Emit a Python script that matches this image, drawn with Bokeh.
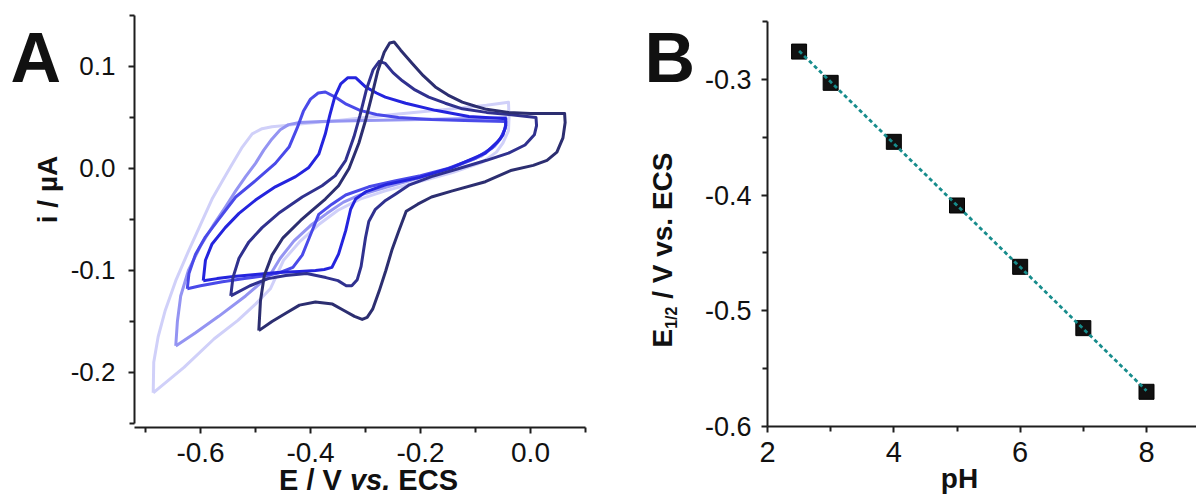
import numpy as np
from bokeh.plotting import figure
from bokeh.layouts import row
from bokeh.models import FixedTicker, PrintfTickFormatter, Label, Range1d, LinearAxis
from bokeh.embed import file_html
from bokeh.resources import INLINE

# ---------------- Panel A: cyclic voltammograms (E / V, i / uA) ----------------
cv1_x = [-0.494, -0.491, -0.484, -0.470, -0.450, -0.418, -0.397, -0.373, -0.349, -0.330, -0.312, -0.300, -0.290,
         -0.278, -0.266, -0.256, -0.248, -0.236, -0.215, -0.195, -0.173, -0.150, -0.124, -0.100, -0.080, -0.040,
         0.000, 0.062, 0.063, 0.059, 0.048, 0.030, 0.005, -0.036, -0.082, -0.142, -0.180, -0.205, -0.226, -0.240,
         -0.252, -0.263, -0.275, -0.287, -0.297, -0.306, -0.320, -0.340, -0.360, -0.391, -0.420, -0.445, -0.470, -0.494]
cv1_y = [-0.159, -0.130, -0.105, -0.085, -0.068, -0.051, -0.041, -0.030, -0.017, 0.000, 0.025, 0.047, 0.068,
         0.095, 0.114, 0.123, 0.124, 0.116, 0.103, 0.091, 0.080, 0.072, 0.065, 0.061, 0.058, 0.055,
         0.054, 0.054, 0.045, 0.030, 0.016, 0.008, 0.003, -0.002, -0.013, -0.022, -0.028, -0.035, -0.042, -0.062,
         -0.080, -0.100, -0.120, -0.138, -0.146, -0.148, -0.145, -0.139, -0.133, -0.131, -0.134, -0.142, -0.150, -0.159]

cv2_x = [-0.545, -0.541, -0.530, -0.512, -0.488, -0.458, -0.415, -0.379, -0.355, -0.336, -0.321, -0.310, -0.298,
         -0.286, -0.275, -0.264, -0.250, -0.233, -0.210, -0.185, -0.155, -0.124, -0.080, -0.039, 0.010,
         0.011, 0.007, -0.010, -0.040, -0.080, -0.130, -0.180, -0.220, -0.245, -0.265, -0.282, -0.294, -0.300,
         -0.304, -0.308, -0.315, -0.325, -0.335, -0.350, -0.372, -0.407, -0.445, -0.477, -0.510, -0.545]
cv2_y = [-0.125, -0.107, -0.088, -0.072, -0.058, -0.044, -0.028, -0.017, -0.007, 0.008, 0.031, 0.052, 0.078,
         0.097, 0.105, 0.103, 0.094, 0.086, 0.077, 0.070, 0.064, 0.0585, 0.055, 0.053, 0.050,
         0.042, 0.033, 0.023, 0.015, 0.008, 0.000, -0.008, -0.016, -0.025, -0.032, -0.040, -0.052, -0.068,
         -0.082, -0.096, -0.109, -0.115, -0.115, -0.110, -0.107, -0.103, -0.105, -0.108, -0.115, -0.125]

cv3_x = [-0.595, -0.591, -0.579, -0.555, -0.530, -0.500, -0.464, -0.427, -0.403, -0.385, -0.373, -0.365, -0.356,
         -0.345, -0.332, -0.318, -0.300, -0.280, -0.264, -0.227, -0.173, -0.112, -0.051, -0.045,
         -0.045, -0.050, -0.060, -0.082, -0.142, -0.203, -0.264, -0.300, -0.318, -0.327, -0.336, -0.349, -0.361,
         -0.375, -0.391, -0.420, -0.460, -0.500, -0.540, -0.570, -0.595]
cv3_y = [-0.110, -0.090, -0.074, -0.058, -0.044, -0.031, -0.018, -0.008, 0.001, 0.014, 0.034, 0.052, 0.070,
         0.083, 0.089, 0.089, 0.080, 0.074, 0.070, 0.064, 0.057, 0.051, 0.049, 0.049,
         0.042, 0.033, 0.026, 0.015, 0.001, -0.009, -0.016, -0.023, -0.030, -0.040, -0.061, -0.084, -0.097,
         -0.099, -0.100, -0.101, -0.102, -0.104, -0.106, -0.108, -0.110]

cv4_x = [-0.624, -0.621, -0.609, -0.591, -0.567, -0.536, -0.500, -0.464, -0.439, -0.424, -0.413, -0.400, -0.386,
         -0.373, -0.355, -0.335, -0.310, -0.280, -0.240, -0.180, -0.120, -0.045,
         -0.046, -0.055, -0.070, -0.100, -0.150, -0.200, -0.245, -0.294, -0.336, -0.361, -0.385, -0.400, -0.415,
         -0.432, -0.455, -0.480, -0.520, -0.560, -0.600, -0.624]
cv4_y = [-0.118, -0.103, -0.084, -0.067, -0.050, -0.028, -0.012, 0.005, 0.021, 0.040, 0.056, 0.068, 0.074,
         0.075, 0.070, 0.063, 0.057, 0.053, 0.050, 0.048, 0.047, 0.046,
         0.039, 0.029, 0.020, 0.010, 0.000, -0.007, -0.012, -0.018, -0.026, -0.035, -0.045, -0.065, -0.085,
         -0.097, -0.102, -0.105, -0.108, -0.111, -0.115, -0.118]

cv5_x = [-0.645, -0.642, -0.636, -0.622, -0.600, -0.576, -0.555, -0.536, -0.518, -0.500, -0.485, -0.470, -0.455,
         -0.440, -0.420, -0.380, -0.300, -0.200, -0.100, -0.045,
         -0.045, -0.052, -0.065, -0.090, -0.140, -0.200, -0.260, -0.310, -0.340, -0.370, -0.400, -0.430, -0.455,
         -0.473, -0.518, -0.567, -0.609, -0.645]
cv5_y = [-0.174, -0.150, -0.125, -0.100, -0.076, -0.055, -0.038, -0.022, -0.008, 0.005, 0.018, 0.029, 0.038,
         0.043, 0.045, 0.046, 0.047, 0.048, 0.049, 0.050,
         0.042, 0.031, 0.022, 0.012, 0.001, -0.009, -0.018, -0.026, -0.033, -0.044, -0.056, -0.071, -0.088,
         -0.104, -0.125, -0.145, -0.161, -0.174]

cv6_x = [-0.686, -0.685, -0.677, -0.664, -0.645, -0.621, -0.600, -0.579, -0.560, -0.545, -0.524, -0.506, -0.488,
         -0.470, -0.430, -0.350, -0.250, -0.150, -0.080, -0.040,
         -0.039, -0.040, -0.050, -0.062, -0.088, -0.142, -0.203, -0.264, -0.310, -0.350, -0.385, -0.420, -0.449,
         -0.473, -0.500, -0.532, -0.575, -0.630, -0.686]
cv6_y = [-0.220, -0.190, -0.165, -0.139, -0.110, -0.080, -0.055, -0.030, -0.012, 0.002, 0.021, 0.034, 0.039,
         0.041, 0.043, 0.047, 0.053, 0.058, 0.062, 0.065,
         0.050, 0.037, 0.025, 0.016, 0.006, -0.004, -0.013, -0.022, -0.030, -0.041, -0.055, -0.072, -0.090,
         -0.118, -0.133, -0.149, -0.167, -0.195, -0.220]

cv_colors = ["#2c2e70", "#30318f", "#2424de", "#4a4ae9", "#9494f2", "#d0d0f9"]

a_x_ticks = [-0.6, -0.4, -0.2, 0.0]
a_x_minor = [-0.7, -0.5, -0.3, -0.1, 0.1]
a_y_ticks = [-0.2, -0.1, 0.0, 0.1]
a_y_minor = [-0.25, -0.15, -0.05, 0.05, 0.15]

# ---------------- Panel B: E1/2 vs pH ----------------
ph = [2.5, 3, 4, 5, 6, 7, 8]
e_half = [-0.276, -0.303, -0.354, -0.409, -0.462, -0.515, -0.570]

b_x_ticks = [2, 4, 6, 8]
b_x_minor = [3, 5, 7, 9]
b_y_ticks = [-0.6, -0.5, -0.4, -0.3]
b_y_minor = [-0.55, -0.45, -0.35, -0.25]

FONT = "Liberation Sans"
AXIS_COLOR = "#1e1e1e"
PAGE_H = 497     # canvas height
MID = 0.3465     # alphabetic baseline -> middle of em box (in em)
SPACE = 0.278    # width of a space (em, Arial metrics)


class Panel:
    """Maps page pixels to data for a figure whose frame covers its whole canvas."""

    def __init__(self, canvas_left, canvas_width, ax_left, ax_right, x0, x1, ax_top, ax_bottom, y0, y1):
        self.cl = canvas_left
        self.cw = canvas_width
        self.kx = (x1 - x0) / (ax_right - ax_left)
        self.ky = (y1 - y0) / (ax_bottom - ax_top)
        self.ax_left, self.x0 = ax_left, x0
        self.ax_bottom, self.y0 = ax_bottom, y0

    def x(self, px):
        return self.x0 + (px - self.ax_left) * self.kx

    def y(self, py):
        return self.y0 + (self.ax_bottom - py) * self.ky

    def xr(self):
        return Range1d(self.x(self.cl), self.x(self.cl + self.cw))

    def yr(self):
        return Range1d(self.y(PAGE_H), self.y(0))


def make_fig(pn):
    p = figure(width=pn.cw, height=PAGE_H, x_range=pn.xr(), y_range=pn.yr(),
               x_axis_type=None, y_axis_type=None,
               output_backend="svg", toolbar_location=None,
               min_border=0, min_border_left=0, min_border_right=0, min_border_top=0, min_border_bottom=0)
    p.outline_line_color = None
    p.background_fill_color = "white"
    p.border_fill_color = "white"
    p.grid.visible = False
    return p


def style_axis(ax, size, standoff):
    ax.axis_line_color = AXIS_COLOR
    ax.axis_line_width = 2
    ax.major_tick_line_color = AXIS_COLOR
    ax.minor_tick_line_color = AXIS_COLOR
    ax.major_tick_line_width = 2
    ax.minor_tick_line_width = 2
    ax.major_tick_out = 6
    ax.major_tick_in = 0
    ax.minor_tick_out = 5
    ax.minor_tick_in = 0
    ax.major_label_text_font = FONT
    ax.major_label_text_color = "#111111"
    ax.major_label_text_font_size = size
    ax.major_label_standoff = standoff


def lab(pn, p, bx, by, text, fs, style="bold", align="left", rotated=False):
    """Place text whose alphabetic baseline sits at page pixel (bx, by)."""
    if rotated:
        ax_, ay_, ang = bx - MID * fs, by, np.pi / 2
    else:
        ax_, ay_, ang = bx, by - MID * fs, 0.0
    p.add_layout(Label(x=pn.x(ax_), y=pn.y(ay_), text=text, text_font=FONT, text_font_style=style,
                       text_font_size=f"{fs}px", text_align=align, text_baseline="middle",
                       angle=ang, text_color="#111111"))


# ---------------- Figure A ----------------
A = Panel(0, 595, 134, 585, -0.72, 0.1, 15, 427, -0.254, 0.15)
pa = make_fig(A)

xa = LinearAxis(fixed_location=-0.254, bounds=(-0.72, 0.1),
                ticker=FixedTicker(ticks=a_x_ticks, minor_ticks=a_x_minor),
                formatter=PrintfTickFormatter(format="%.1f"))
style_axis(xa, "28px", 9)
pa.add_layout(xa, "below")
ya = LinearAxis(fixed_location=-0.72, bounds=(-0.25, 0.15),
                ticker=FixedTicker(ticks=a_y_ticks, minor_ticks=a_y_minor),
                formatter=PrintfTickFormatter(format="%.1f"))
style_axis(ya, "26px", 13)
pa.add_layout(ya, "left")

cvs = [(cv1_x, cv1_y), (cv2_x, cv2_y), (cv3_x, cv3_y), (cv4_x, cv4_y), (cv5_x, cv5_y), (cv6_x, cv6_y)]
for (xs, ys), col in reversed(list(zip(cvs, cv_colors))):
    pa.line(xs, ys, line_color=col, line_width=3, line_join="round")

lab(A, pa, 10, 82, "A", 70)
lab(A, pa, 57, 189, "i / µA", 28, align="center", rotated=True)
fs = 29
pieces = [("E / V", "bold", 2.168), ("vs.", "bold italic", 1.39), ("ECS", "bold", 2.056)]
total = sum(w for _, _, w in pieces) + 2 * SPACE
cx = 368 - total * fs / 2
for txt, st, w in pieces:
    lab(A, pa, cx, 490, txt, fs, style=st)
    cx += (w + SPACE) * fs

# ---------------- Figure B ----------------
B = Panel(595, 601, 767, 1146, 2, 8, 21, 426, -0.6, -0.25)
pb = make_fig(B)

xb = LinearAxis(fixed_location=-0.6, bounds=(2, B.x(595 + 601)),
                ticker=FixedTicker(ticks=b_x_ticks, minor_ticks=b_x_minor),
                formatter=PrintfTickFormatter(format="%d"))
style_axis(xb, "29px", 9)
pb.add_layout(xb, "below")
yb = LinearAxis(fixed_location=2, bounds=(-0.6, -0.25),
                ticker=FixedTicker(ticks=b_y_ticks, minor_ticks=b_y_minor),
                formatter=PrintfTickFormatter(format="%.1f"))
style_axis(yb, "27px", 10)
pb.add_layout(yb, "left")

pb.scatter(ph, e_half, marker="square", size=15, fill_color="#111111", line_color="black", line_width=1)
slope, intercept = np.polyfit(ph, e_half, 1)
fit_x = [ph[0], ph[-1]]
fit_y = [slope * ph[0] + intercept, slope * ph[-1] + intercept]
pb.line(fit_x, fit_y, line_color="#178c8c", line_width=2.8, line_dash="4 3")

lab(B, pb, 644, 82, "B", 70)
lab(B, pb, 959, 488, "pH", 28, align="center")
fsb, fsub = 28, 16
ybot = 347
lab(B, pb, 672, ybot, "E", fsb, rotated=True)
ybot -= 0.667 * fsb
lab(B, pb, 677, ybot, "1/2", fsub, rotated=True)
ybot -= 1.39 * fsub + SPACE * fsb
lab(B, pb, 672, ybot, "/ V vs. ECS", fsb, rotated=True)

layout = row(pa, pb)
open("out.html", "w").write(file_html(layout, INLINE))
